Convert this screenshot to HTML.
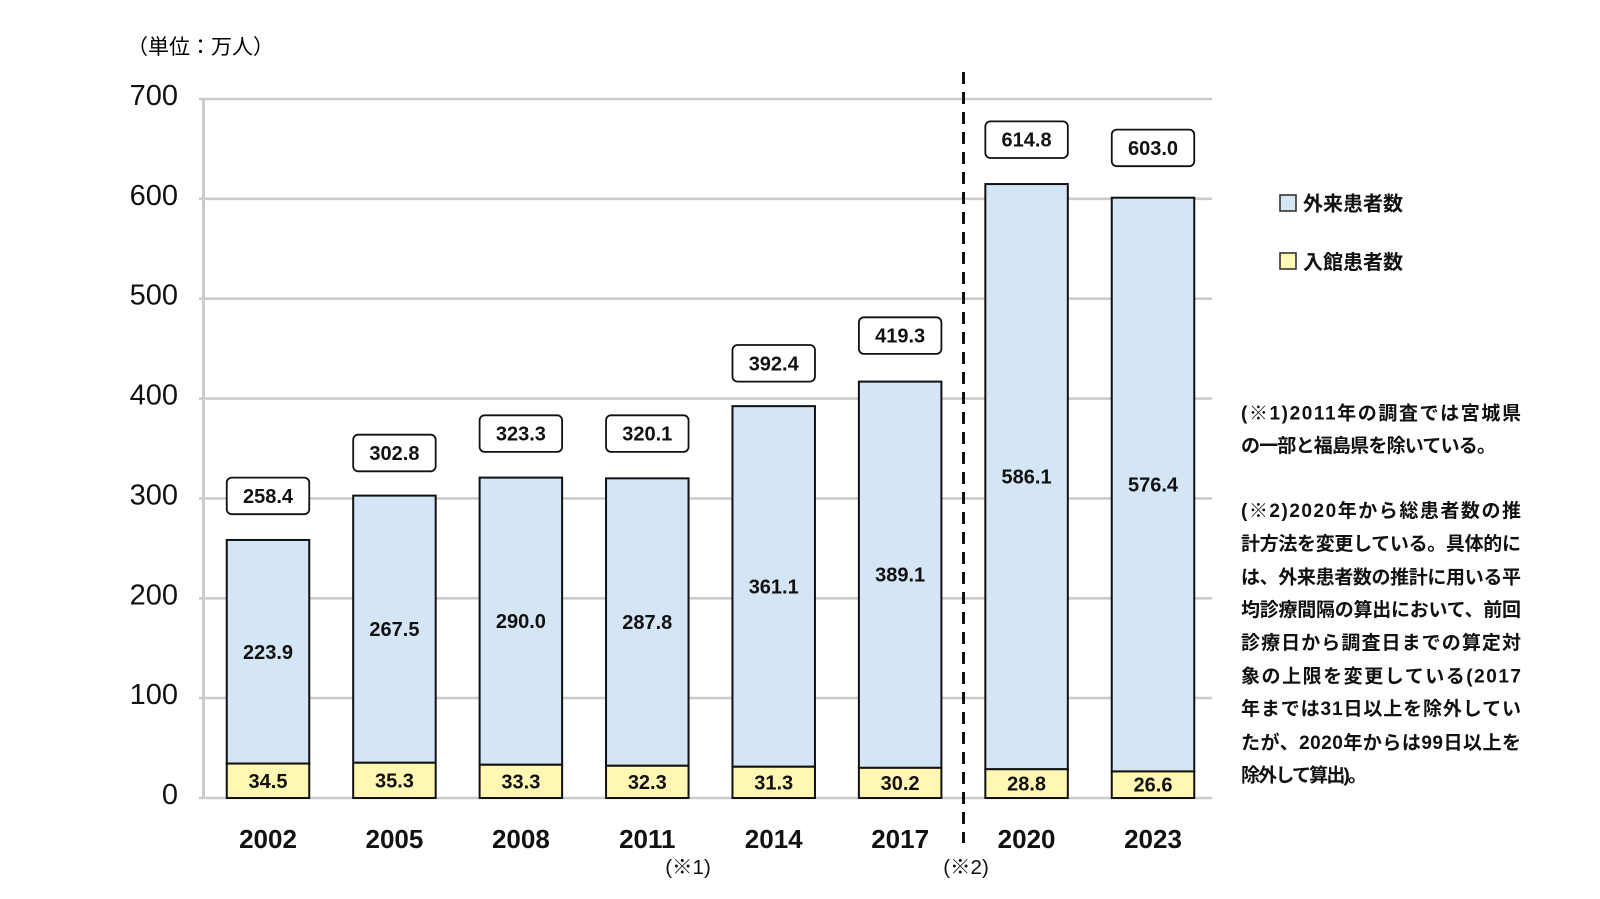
<!DOCTYPE html>
<html>
<head>
<meta charset="utf-8">
<style>
html,body{margin:0;padding:0;background:#fff;}
svg{display:block;}
text{font-family:"Liberation Sans","Noto Sans CJK JP",sans-serif;fill:#111;}
.cjk{font-family:"Noto Sans CJK JP","Liberation Sans",sans-serif;}
.yl{font-size:29px;text-anchor:end;}
.yr{font-size:26px;font-weight:bold;text-anchor:middle;}
.v{font-size:20px;font-weight:bold;text-anchor:middle;}
.note{font-size:19px;font-weight:bold;}
</style>
</head>
<body>
<svg width="1600" height="899" viewBox="0 0 1600 899" xmlns="http://www.w3.org/2000/svg">
<rect width="1600" height="899" fill="#fff"/>

<!-- unit -->
<text class="cjk" x="127" y="54" font-size="21" style="fill:#000">（単位：万人）</text>

<!-- gridlines -->
<g stroke="#cbcbcb" stroke-width="2.6">
<line x1="199" y1="99" x2="1212" y2="99"/>
<line x1="199" y1="198.8" x2="1212" y2="198.8"/>
<line x1="199" y1="298.7" x2="1212" y2="298.7"/>
<line x1="199" y1="398.6" x2="1212" y2="398.6"/>
<line x1="199" y1="498.4" x2="1212" y2="498.4"/>
<line x1="199" y1="598.3" x2="1212" y2="598.3"/>
<line x1="199" y1="698.1" x2="1212" y2="698.1"/>
<line x1="199" y1="798" x2="1212" y2="798"/>
</g>
<line x1="203.5" y1="98" x2="203.5" y2="799" stroke="#cbcbcb" stroke-width="3"/>

<!-- y labels -->
<text class="yl" x="178" y="105">700</text>
<text class="yl" x="178" y="204.8">600</text>
<text class="yl" x="178" y="304.7">500</text>
<text class="yl" x="178" y="404.6">400</text>
<text class="yl" x="178" y="504.4">300</text>
<text class="yl" x="178" y="604.3">200</text>
<text class="yl" x="178" y="704.1">100</text>
<text class="yl" x="178" y="804">0</text>

<!-- bars -->
<g stroke="#111" stroke-width="2">
<rect x="226.75" y="539.96" width="82.5" height="223.59" fill="#d4e5f5"/>
<rect x="226.75" y="763.55" width="82.5" height="34.45" fill="#fff7b2"/>
<rect x="353.18" y="495.62" width="82.5" height="267.13" fill="#d4e5f5"/>
<rect x="353.18" y="762.75" width="82.5" height="35.25" fill="#fff7b2"/>
<rect x="479.61" y="477.6" width="82.5" height="287.15" fill="#d4e5f5"/>
<rect x="479.61" y="764.75" width="82.5" height="33.25" fill="#fff7b2"/>
<rect x="606.04" y="478.35" width="82.5" height="287.4" fill="#d4e5f5"/>
<rect x="606.04" y="765.75" width="82.5" height="32.25" fill="#fff7b2"/>
<rect x="732.47" y="406.15" width="82.5" height="360.59" fill="#d4e5f5"/>
<rect x="732.47" y="766.74" width="82.5" height="31.26" fill="#fff7b2"/>
<rect x="858.9" y="381.6" width="82.5" height="386.24" fill="#d4e5f5"/>
<rect x="858.9" y="767.84" width="82.5" height="30.16" fill="#fff7b2"/>
<rect x="985.33" y="184.06" width="82.5" height="585.18" fill="#d4e5f5"/>
<rect x="985.33" y="769.24" width="82.5" height="28.76" fill="#fff7b2"/>
<rect x="1111.75" y="197.7" width="82.5" height="573.74" fill="#d4e5f5"/>
<rect x="1111.75" y="771.44" width="82.5" height="26.56" fill="#fff7b2"/>
</g>

<!-- total boxes -->
<g stroke="#111" stroke-width="1.8" fill="#fff">
<rect x="226.75" y="477.6" width="82.5" height="36.6" rx="5"/>
<rect x="353.18" y="434.7" width="82.5" height="36.6" rx="5"/>
<rect x="479.61" y="415.3" width="82.5" height="36.6" rx="5"/>
<rect x="606.04" y="415.3" width="82.5" height="36.6" rx="5"/>
<rect x="732.47" y="345" width="82.5" height="36.6" rx="5"/>
<rect x="858.9" y="317.3" width="82.5" height="36.6" rx="5"/>
<rect x="985.33" y="121.4" width="82.5" height="36.6" rx="5"/>
<rect x="1111.75" y="129.6" width="82.5" height="36.6" rx="5"/>
</g>
<text class="v" x="268" y="503">258.4</text>
<text class="v" x="394.43" y="460">302.8</text>
<text class="v" x="520.86" y="440.6">323.3</text>
<text class="v" x="647.29" y="440.6">320.1</text>
<text class="v" x="773.72" y="370.3">392.4</text>
<text class="v" x="900.15" y="342.6">419.3</text>
<text class="v" x="1026.58" y="146.7">614.8</text>
<text class="v" x="1153" y="154.9">603.0</text>

<!-- blue values -->
<text class="v" x="268" y="658.8">223.9</text>
<text class="v" x="394.43" y="636.2">267.5</text>
<text class="v" x="520.86" y="628.2">290.0</text>
<text class="v" x="647.29" y="629">287.8</text>
<text class="v" x="773.72" y="593.4">361.1</text>
<text class="v" x="900.15" y="581.7">389.1</text>
<text class="v" x="1026.58" y="483.6">586.1</text>
<text class="v" x="1153" y="491.6">576.4</text>

<!-- yellow values -->
<text class="v" x="268" y="787.8">34.5</text>
<text class="v" x="394.43" y="787.4">35.3</text>
<text class="v" x="520.86" y="788.4">33.3</text>
<text class="v" x="647.29" y="788.9">32.3</text>
<text class="v" x="773.72" y="789.4">31.3</text>
<text class="v" x="900.15" y="789.9">30.2</text>
<text class="v" x="1026.58" y="790.6">28.8</text>
<text class="v" x="1153" y="791.7">26.6</text>

<!-- dashed divider -->
<line x1="963.5" y1="72" x2="963.5" y2="843" stroke="#111" stroke-width="3" stroke-dasharray="12 8"/>

<!-- year labels -->
<text class="yr" x="268" y="848">2002</text>
<text class="yr" x="394.43" y="848">2005</text>
<text class="yr" x="520.86" y="848">2008</text>
<text class="yr" x="647.29" y="848">2011</text>
<text class="yr" x="773.72" y="848">2014</text>
<text class="yr" x="900.15" y="848">2017</text>
<text class="yr" x="1026.58" y="848">2020</text>
<text class="yr" x="1153" y="848">2023</text>

<text x="688" y="874" font-size="20.5" text-anchor="middle">(※1)</text>
<text x="966" y="874" font-size="20.5" text-anchor="middle">(※2)</text>

<!-- legend -->
<rect x="1280" y="195" width="16" height="16" fill="#d4e5f5" stroke="#333" stroke-width="1.6"/>
<text class="cjk" x="1303" y="210.5" font-size="20" font-weight="bold">外来患者数</text>
<rect x="1280" y="253" width="16" height="16" fill="#fff7b2" stroke="#333" stroke-width="1.6"/>
<text class="cjk" x="1303" y="269" font-size="20" font-weight="bold">入館患者数</text>

<!-- notes -->
<g class="note">
<text class="note" x="1241" y="419.3" textLength="280" lengthAdjust="spacing">(※1)2011年の調査では宮城県</text>
<text class="note" x="1241" y="451.9" textLength="255" lengthAdjust="spacing">の一部と福島県を除いている。</text>
<text class="note" x="1241" y="517.2" textLength="280" lengthAdjust="spacing">(※2)2020年から総患者数の推</text>
<text class="note" x="1241" y="549.9" textLength="280" lengthAdjust="spacing">計方法を変更している。具体的に</text>
<text class="note" x="1241" y="583.5" textLength="280" lengthAdjust="spacing">は、外来患者数の推計に用いる平</text>
<text class="note" x="1241" y="616.2" textLength="280" lengthAdjust="spacing">均診療間隔の算出において、前回</text>
<text class="note" x="1241" y="648.8" textLength="280" lengthAdjust="spacing">診療日から調査日までの算定対</text>
<text class="note" x="1241" y="682.5" textLength="280" lengthAdjust="spacing">象の上限を変更している(2017</text>
<text class="note" x="1241" y="715.2" textLength="280" lengthAdjust="spacing">年までは31日以上を除外してい</text>
<text class="note" x="1241" y="748.8" textLength="280" lengthAdjust="spacing">たが、2020年からは99日以上を</text>
<text class="note" x="1241" y="781.5" textLength="126" lengthAdjust="spacing">除外して算出)。</text>
</g>
</svg>
</body>
</html>
